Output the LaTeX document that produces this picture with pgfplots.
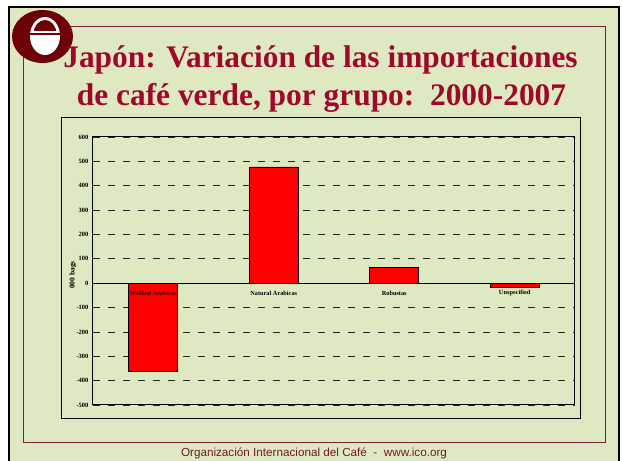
\documentclass[border=0pt]{standalone}
\usepackage{fontspec}
\setmainfont{Liberation Serif}
\newfontfamily\arialfont{Liberation Sans}
\usepackage{pgfplots}
\pgfplotsset{compat=1.18}
\definecolor{slidebg}{RGB}{222,233,194}
\definecolor{titlered}{RGB}{158,8,44}
\definecolor{logored}{RGB}{110,0,8}
\definecolor{framered}{RGB}{125,30,60}
\definecolor{footred}{RGB}{110,25,40}

\begin{document}
\begin{tikzpicture}[x=1pt,y=1pt]
\useasboundingbox (0,0) rectangle (622,461);
\fill[white] (0,0) rectangle (622,461);
\fill[slidebg] (9,-5) rectangle (619,454);
\draw[black, line width=2.6pt] (9,-5) -- (9,454) -- (619,454) -- (619,-5);
\draw[framered, line width=1pt] (23,18) rectangle (605,434);
\draw[black, line width=1pt] (61.5,42) rectangle (580.5,343);

% logo
\fill[logored] (42.5,424.5) ellipse [x radius=30.5, y radius=26.5];
\fill[white] (45,425) ellipse [x radius=15, y radius=19];
\begin{scope}
  \clip (30,430) rectangle (60,450);
  \fill[logored] (45,427) ellipse [x radius=11.5, y radius=14];
\end{scope}
\fill[logored] (30,426) rectangle (60,427.8);

% title
\node[anchor=base, inner sep=0, text=titlered, font=\fontsize{31.4}{38}\selectfont\bfseries]
  at (320.5,393) {Japón: Variación de las importaciones};
\node[anchor=base, inner sep=0, text=titlered, font=\fontsize{31.4}{38}\selectfont\bfseries]
  at (321.5,355) {de café verde, por grupo:\ \ 2000-2007};

\begin{axis}[
  at={(93pt,56pt)}, anchor=south west,
  width=482pt, height=268pt, scale only axis,
  xmin=-0.5, xmax=3.5, ymin=-500, ymax=600,
  xtick=\empty, ytick={-500,-400,...,600},
  ymajorgrids,
  major grid style={black!85, line width=0.7pt, dash pattern=on 7pt off 8pt},
  extra y ticks={0}, extra y tick labels={},
  extra y tick style={major grid style={solid, black, line width=0.9pt}},
  major tick length=0pt,
  axis line style={line width=1pt},
  /pgf/number format/assume math mode=true,
  yticklabel style={font=\fontsize{6.5}{7}\selectfont\bfseries, xshift=-1pt},
  ylabel={000 bags},
  ylabel style={font=\fontsize{7.5}{8}\selectfont\bfseries,
    at={(axis description cs:-0.042,0.485)}, anchor=center},
  bar width=0.405,
]
\addplot[ybar, fill=red, draw=black, line width=0.7pt]
  coordinates {(0,-360) (1,477) (2,65) (3,-17)};
\node[font=\fontsize{6.3}{7}\selectfont\bfseries, text=black!85!red] at (axis cs:0,0) [yshift=-10pt] {Washed Arabicas};
\node[font=\fontsize{6.3}{7}\selectfont\bfseries] at (axis cs:1,0) [yshift=-10pt] {Natural Arabicas};
\node[font=\fontsize{6.3}{7}\selectfont\bfseries] at (axis cs:2,0) [yshift=-10pt] {Robustas};
\node[font=\fontsize{6.3}{7}\selectfont\bfseries] at (axis cs:3,0) [yshift=-10pt] {Unspecified};
\end{axis}

% footer
\node[anchor=base, inner sep=0, text=footred, font=\arialfont\fontsize{11.7}{13}\selectfont]
  at (314,4) {Organización Internacional del Café\ \ -\ \ www.ico.org};
\end{tikzpicture}
\end{document}
